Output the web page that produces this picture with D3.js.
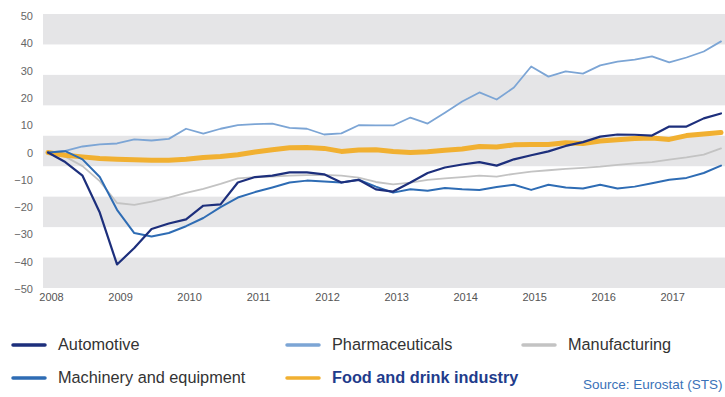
<!DOCTYPE html>
<html>
<head>
<meta charset="utf-8">
<script src="https://cdn.jsdelivr.net/npm/d3@7/dist/d3.min.js"></script>
<style>
  html, body { margin: 0; padding: 0; background: #fff; }
  svg { display: block; font-family: "Liberation Sans", Arial, sans-serif; }
</style>
</head>
<body>
<svg id="chart" width="725" height="397"></svg>
<script>
// Production index, 2008 = 0, quarterly from 2008 Q1 to 2017 Q4
const quarters = d3.range(40).map(k => 2008 + k / 4);
const years = [2008, 2009, 2010, 2011, 2012, 2013, 2014, 2015, 2016, 2017];
const yTicks = [50, 40, 30, 20, 10, 0, -10, -20, -30, -40, -50];

const automotive = [0, -3.5, -8.5, -22, -41, -35, -28, -26, -24.5, -19.5,
  -19, -11, -9, -8.5, -7.3, -7.3, -8, -11, -10, -13.5,
  -14.3, -11, -7.5, -5.5, -4.4, -3.5, -4.8, -2.5, -1, 0.4,
  2.4, 3.8, 5.8, 6.6, 6.5, 6.2, 9.5, 9.5, 12.5, 14.3];
const pharmaceuticals = [0, 0.6, 2.2, 3, 3.3, 4.8, 4.4, 5, 8.7, 6.9,
  8.7, 10, 10.4, 10.6, 9, 8.7, 6.6, 7, 10, 9.9,
  9.9, 12.8, 10.6, 14.6, 18.7, 22, 19.4, 23.8, 31.5, 27.8,
  29.7, 28.9, 31.9, 33.3, 34, 35.2, 33, 34.8, 37, 40.7];
const manufacturing = [0, -1.5, -5, -10.5, -18.5, -19.2, -18, -16.5, -14.8, -13.3,
  -11.5, -9.5, -9, -8.8, -8.5, -8.3, -8.2, -8.5, -9.2, -10.8,
  -11.7, -11, -10, -9.5, -9, -8.5, -8.8, -7.8, -7, -6.5,
  -6, -5.6, -5.2, -4.5, -4, -3.5, -2.6, -1.8, -0.8, 1.5];
const machinery = [0, 0.5, -2.5, -9, -21, -29.5, -30.8, -29.5, -27, -24,
  -20, -16.5, -14.5, -12.8, -11, -10.3, -10.6, -11, -10, -12.5,
  -14.7, -13.5, -14, -13, -13.5, -13.7, -12.6, -11.8, -13.7, -11.8,
  -12.8, -13.2, -11.8, -13.2, -12.5, -11.3, -10, -9.3, -7.5, -4.8];
const foodDrink = [0, -1, -1.6, -2.2, -2.5, -2.7, -2.8, -2.8, -2.5, -1.8,
  -1.5, -0.8, 0.2, 1, 1.7, 1.8, 1.5, 0.4, 0.9, 1,
  0.4, 0, 0.3, 0.8, 1.3, 2.2, 2, 2.8, 2.9, 2.9,
  3.6, 3.3, 4.2, 4.7, 5.1, 5.3, 4.8, 6.2, 6.8, 7.3];

const seriesNames = ["Automotive", "Pharmaceuticals", "Manufacturing",
  "Machinery and equipment", "Food and drink industry"];

const series = [
  { name: seriesNames[2], values: manufacturing, color: "#c3c3c3", width: 1.8 },
  { name: seriesNames[1], values: pharmaceuticals, color: "#7ca5d5", width: 1.8 },
  { name: seriesNames[4], values: foodDrink, color: "#f1b031", width: 5 },
  { name: seriesNames[3], values: machinery, color: "#2e6cb4", width: 2 },
  { name: seriesNames[0], values: automotive, color: "#1d2f7c", width: 2.2 }
];
const byName = Object.fromEntries(series.map(s => [s.name, s]));

const svg = d3.select("#chart");
const plotLeft = 43, plotRight = 725;

const x = d3.scaleLinear().domain([2008, 2017.75]).range([48, 721]);
const y = d3.scaleLinear().domain([-50, 50]).range([289, 16]);

// Alternating background bands
const bandTop = y(50) - 2, bandBottom = y(-50) - 1, bandCount = 9;
const bandH = (bandBottom - bandTop) / bandCount;
svg.append("g")
  .selectAll("rect")
  .data(d3.range(bandCount).filter(i => i % 2 === 0))
  .join("rect")
  .attr("x", plotLeft)
  .attr("width", plotRight - plotLeft)
  .attr("y", i => bandTop + i * bandH)
  .attr("height", bandH)
  .attr("fill", "#e5e5e7");

// Y axis labels
const yAxis = svg.append("g")
  .attr("transform", "translate(33,0)")
  .call(d3.axisLeft(y).tickValues(yTicks).tickSize(0).tickPadding(0));
yAxis.select(".domain").remove();
yAxis.selectAll("text")
  .attr("fill", "#666")
  .style("font-size", "11px")
  .style("font-family", "'Liberation Sans', Arial, sans-serif");

// X axis labels
const xAxis = svg.append("g")
  .attr("transform", "translate(3,293)")
  .call(d3.axisBottom(x).tickValues(years).tickFormat(d3.format("d")).tickSize(0).tickPadding(0));
xAxis.select(".domain").remove();
xAxis.selectAll("text")
  .attr("fill", "#555")
  .style("font-size", "11px")
  .style("font-family", "'Liberation Sans', Arial, sans-serif");

// Series lines
const line = d3.line()
  .x((d, i) => x(quarters[i]))
  .y(d => y(d));

svg.append("g")
  .selectAll("path")
  .data(series)
  .join("path")
  .attr("d", s => line(s.values))
  .attr("fill", "none")
  .attr("stroke", s => s.color)
  .attr("stroke-width", s => s.width)
  .attr("stroke-linejoin", "round")
  .attr("stroke-linecap", "round");

// Legend
const legendItems = [
  { name: seriesNames[0], lx: 13, ty: 350, bold: false },
  { name: seriesNames[1], lx: 287, ty: 350, bold: false },
  { name: seriesNames[2], lx: 523, ty: 350, bold: false },
  { name: seriesNames[3], lx: 13, ty: 383, bold: false },
  { name: seriesNames[4], lx: 287, ty: 383, bold: true }
];
const lg = svg.append("g")
  .selectAll("g")
  .data(legendItems)
  .join("g");
lg.append("line")
  .attr("x1", d => d.lx)
  .attr("x2", d => d.lx + 32)
  .attr("y1", d => d.ty - 5)
  .attr("y2", d => d.ty - 5)
  .attr("stroke", d => byName[d.name].color)
  .attr("stroke-width", 3.5)
  .attr("stroke-linecap", "round");
lg.append("text")
  .attr("x", d => d.lx + 45)
  .attr("y", d => d.ty)
  .attr("fill", d => d.bold ? "#1f3c8c" : "#333")
  .style("font-size", "16.3px")
  .style("font-weight", d => d.bold ? "bold" : "normal")
  .text(d => d.name);

svg.append("text")
  .attr("x", 583)
  .attr("y", 389)
  .attr("fill", "#3a72b8")
  .style("font-size", "13.5px")
  .text("Source: Eurostat (STS)");
</script>
</body>
</html>
